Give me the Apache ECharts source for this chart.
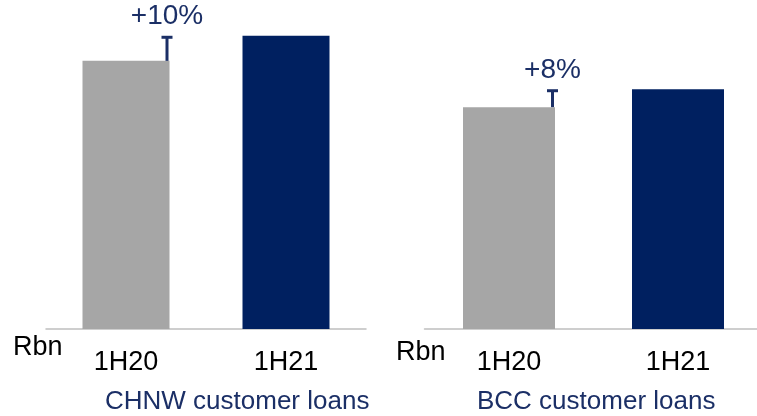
<!DOCTYPE html>
<html><head><meta charset="utf-8">
<script src="https://cdn.jsdelivr.net/npm/echarts@6/dist/echarts.min.js"></script>
<style>html,body{margin:0;padding:0;background:#fff}#c{width:757px;height:416px}</style>
</head><body><div id="c"></div>
<script>
const categories = ['1H20', '1H21'];
const chnwValues = [65.2, 71.3];
const bccValues = [52.0, 56.2];
const chnwGrowth = '+10%';
const bccGrowth = '+8%';
const panelTitles = ['CHNW customer loans', 'BCC customer loans'];
const unitLabel = 'Rbn';

const GRAY = '#A6A6A6', NAVY = '#002060', TXT = '#1B2F66';
const FONT = '"Liberation Sans", Arial, sans-serif';

const chart = echarts.init(document.getElementById('c'), null, {renderer: 'canvas'});

function growthSeries(idx, vals, label, barW) {
  return {
    type: 'custom', xAxisIndex: idx, yAxisIndex: idx, silent: true, z: 5,
    data: [[0, vals[0], vals[1]]],
    renderItem: function (params, api) {
      const p1 = api.coord([api.value(0), api.value(1)]);
      const p2 = api.coord([api.value(0), api.value(2)]);
      const x = p1[0] + barW / 2 - 2.5;
      return {type: 'group', children: [
        {type: 'line', shape: {x1: x, y1: p1[1], x2: x, y2: p2[1] + 1}, style: {stroke: TXT, lineWidth: 3}},
        {type: 'line', shape: {x1: x - 5.5, y1: p2[1] + 1.5, x2: x + 5.5, y2: p2[1] + 1.5}, style: {stroke: TXT, lineWidth: 3}},
        {type: 'text', x: x, y: p2[1] - 19, style: {text: label, fill: TXT, font: '28px ' + FONT, align: 'center', verticalAlign: 'middle'}}
      ]};
    }
  };
}

const axisLabel = {color: '#000', fontSize: 27, fontFamily: FONT, margin: 34, verticalAlign: 'middle'};

chart.setOption({
  animation: false,
  grid: [
    {left: 46, top: 0, width: 320, height: 329, outerBoundsMode: 'none', containLabel: false},
    {left: 424.5, top: 9, width: 338, height: 320, outerBoundsMode: 'none', containLabel: false}
  ],
  xAxis: [0, 1].map(i => ({
    type: 'category', gridIndex: i, data: categories,
    axisLine: {lineStyle: {color: '#BFBFBF', width: 1.5}},
    axisTick: {show: false}, axisLabel: axisLabel
  })),
  yAxis: [
    {type: 'value', gridIndex: 0, min: 0, max: 80, show: false},
    {type: 'value', gridIndex: 1, min: 0, max: 75, show: false}
  ],
  series: [
    {type: 'bar', xAxisIndex: 0, yAxisIndex: 0, barWidth: 87,
     data: chnwValues.map((v, i) => ({value: v, itemStyle: {color: i === 0 ? GRAY : NAVY}}))},
    {type: 'bar', xAxisIndex: 1, yAxisIndex: 1, barWidth: 92,
     data: bccValues.map((v, i) => ({value: v, itemStyle: {color: i === 0 ? GRAY : NAVY}}))},
    growthSeries(0, chnwValues, chnwGrowth, 87),
    growthSeries(1, bccValues, bccGrowth, 92)
  ],
  graphic: [
    {type: 'text', x: 13, y: 348, style: {text: unitLabel, fill: '#000', font: '27px ' + FONT, verticalAlign: 'middle'}},
    {type: 'text', x: 396, y: 353, style: {text: unitLabel, fill: '#000', font: '27px ' + FONT, verticalAlign: 'middle'}},
    {type: 'text', x: 105, y: 402, style: {text: panelTitles[0], fill: TXT, font: '26px ' + FONT, verticalAlign: 'middle'}},
    {type: 'text', x: 477, y: 402, style: {text: panelTitles[1], fill: TXT, font: '26px ' + FONT, verticalAlign: 'middle'}}
  ]
});
</script></body></html>
